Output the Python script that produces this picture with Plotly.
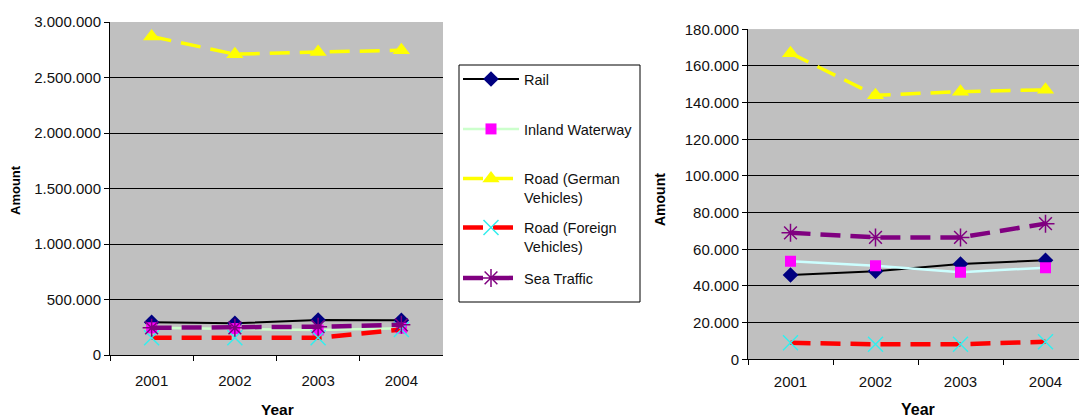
import plotly.graph_objects as go

W, H = 1079, 419

years = ["2001", "2002", "2003", "2004"]
series_names = ["Rail", "Inland Waterway", "Road (German<br>Vehicles)",
                "Road (Foreign<br>Vehicles)", "Sea Traffic"]

# left panel
rail_left = [295000, 285000, 315000, 312000]
inland_left = [245000, 238000, 225000, 242000]
road_de_left = [2870000, 2710000, 2730000, 2745000]
road_foreign_left = [155000, 155000, 155000, 230000]
sea_left = [245000, 245000, 255000, 272000]

# right panel
rail_right = [46000, 48000, 52000, 54000]
inland_right = [53500, 51000, 47500, 50000]
road_de_right = [167000, 144000, 146000, 147000]
road_foreign_right = [9000, 8200, 8200, 9600]
sea_right = [69000, 66500, 66500, 74000]

FONT = "Liberation Sans, Arial, sans-serif"


def px_x(p):
    return p / W


def px_y(p):
    return 1 - p / H


styles = [
    dict(line=dict(color="#000000", width=2),
         marker=dict(symbol="diamond", size=12, color="#000080")),
    dict(line=dict(color="#CCFFCC", width=2.5),
         marker=dict(symbol="square", size=11, color="#FF00FF")),
    dict(line=dict(color="#FFFF00", width=3.5, dash="20px,10px"),
         marker=dict(symbol="triangle-up", size=15, color="#FFFF00")),
    dict(line=dict(color="#FF0000", width=4.5, dash="20px,10px"),
         marker=dict(symbol="x-thin-open", size=15, color="#33EEEE",
                     line=dict(color="#33EEEE", width=1.5))),
    dict(line=dict(color="#800080", width=4.5, dash="20px,10px"),
         marker=dict(symbol="asterisk-open", size=15, color="#800080",
                     line=dict(color="#800080", width=1.5))),
]

left_data = [rail_left, inland_left, road_de_left, road_foreign_left, sea_left]
right_data = [rail_right, inland_right, road_de_right, road_foreign_right, sea_right]
legend_ids = ["legend", "legend2", "legend3", "legend4", "legend5"]

fig = go.Figure()

for i, (name, vals) in enumerate(zip(series_names, left_data)):
    fig.add_trace(go.Scatter(
        x=years, y=vals, name=name, mode="lines+markers",
        xaxis="x", yaxis="y", legend=legend_ids[i], showlegend=True,
        **styles[i]))

for i, (name, vals) in enumerate(zip(series_names, right_data)):
    st = dict(styles[i])
    if i == 1:
        st = dict(line=dict(color="#CCFFFF", width=2.5), marker=styles[i]["marker"])
    fig.add_trace(go.Scatter(
        x=years, y=vals, name=name, mode="lines+markers",
        xaxis="x2", yaxis="y2", showlegend=False, **st))

tick_font = dict(family=FONT, size=15, color="#111111")

common_x = dict(type="category", showline=True, linecolor="black", linewidth=1,
                ticks="outside", tickson="boundaries", ticklen=5, tickcolor="black",
                showgrid=False, tickfont=tick_font, fixedrange=True, automargin=False)
common_y = dict(showline=True, linecolor="black", linewidth=1, ticks="outside",
                ticklen=5, tickcolor="black", showgrid=True, gridcolor="black",
                gridwidth=1, zeroline=False, tickformat=",d", tickfont=tick_font,
                automargin=False)

legend_y = [79, 129, 188, 237, 278]
legends = {}
for i, lid in enumerate(legend_ids):
    legends[lid] = dict(
        x=px_x(458), xanchor="left", y=px_y(legend_y[i]), yanchor="middle",
        bgcolor="rgba(0,0,0,0)", borderwidth=0, itemwidth=56, valign="top",
        font=dict(family=FONT, size=14.5, color="#111111"),
        itemclick=False, itemdoubleclick=False,
    )

title_font = dict(family=FONT, color="black")
annotations = [
    dict(text="<b>Amount</b>", x=px_x(15), y=px_y(190), textangle=-90,
         font=dict(size=13, **title_font)),
    dict(text="<b>Amount</b>", x=px_x(660), y=px_y(200), textangle=-90,
         font=dict(size=14, **title_font)),
    dict(text="<b>Year</b>", x=px_x(277), y=px_y(409.5),
         font=dict(size=15.5, **title_font)),
    dict(text="<b>Year</b>", x=px_x(918), y=px_y(409.5),
         font=dict(size=16, **title_font)),
]
for a in annotations:
    a.update(xref="paper", yref="paper", xanchor="center", yanchor="middle",
             showarrow=False)

# the plot frames have no top border: cover the gridline at the range maximum
top_covers = [
    dict(type="line", xref="x domain", yref="y", x0=0.004, x1=1, y0=3000000, y1=3000000,
         line=dict(color="#C0C0C0", width=1.5), layer="above"),
    dict(type="line", xref="x2 domain", yref="y2", x0=0.004, x1=1, y0=180000, y1=180000,
         line=dict(color="#C0C0C0", width=1.5), layer="above"),
]

fig.update_layout(
    width=W, height=H, margin=dict(l=0, r=0, t=0, b=0, autoexpand=False),
    paper_bgcolor="white", plot_bgcolor="#C0C0C0",
    separators=",.",
    xaxis=dict(domain=[px_x(110), px_x(443)], anchor="y", range=[-0.5, 3.5],
               ticklabelstandoff=12, **common_x),
    yaxis=dict(domain=[px_y(355), px_y(22)], anchor="x", range=[0, 3000000],
               dtick=500000, **common_y),
    xaxis2=dict(domain=[px_x(748), 1.0], anchor="y2",
                range=[-0.5, -0.5 + (W - 748) / 85.0], ticklabelstandoff=9, **common_x),
    yaxis2=dict(domain=[px_y(359.3), px_y(29.3)], anchor="x2", range=[0, 180000],
                dtick=20000, **common_y),
    annotations=annotations,
    shapes=[dict(type="rect", xref="paper", yref="paper",
                 x0=px_x(459), x1=px_x(640), y0=px_y(302), y1=px_y(65),
                 line=dict(color="black", width=1))] + top_covers,
    **legends,
)

fig.write_html("out.html")
